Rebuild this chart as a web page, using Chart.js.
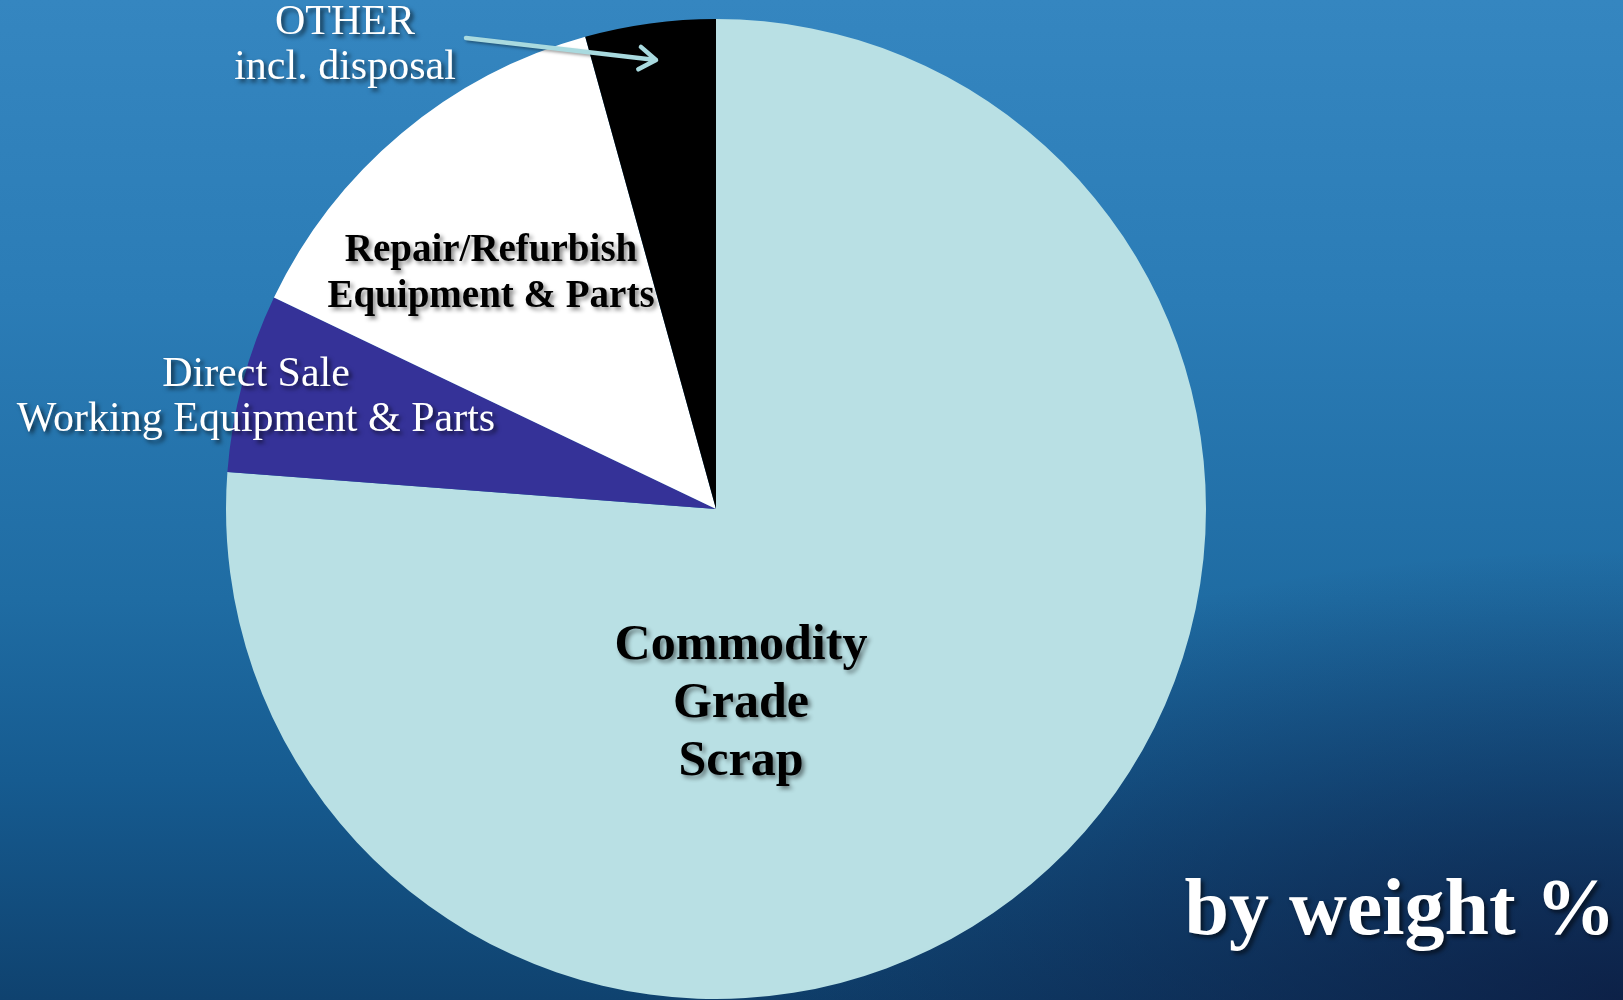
<!DOCTYPE html>
<html>
<head>
<meta charset="utf-8">
<script src="https://cdn.jsdelivr.net/npm/chart.js@4.4.0/dist/chart.umd.min.js"></script>
<style>
    html, body { margin: 0; padding: 0; overflow: hidden; }
    #wrap {
        position: relative;
        width: 1623px;
        height: 1000px;
        background:
            radial-gradient(ellipse 60% 45% at 100% 100%, rgba(12, 22, 58, 0.75), rgba(12, 22, 58, 0) 100%),
            linear-gradient(180deg, #3586c0 0%, #2b7cb6 30%, #1f6ca3 60%, #165b90 78%, #0f426f 100%);
    }
</style>
</head>
<body>
<div id="wrap"><canvas id="pieChart"></canvas></div>
<script>
// data (percent by weight)
const categories = ['Commodity Grade Scrap', 'Direct Sale Working Equipment & Parts', 'Repair/Refurbish Equipment & Parts', 'OTHER incl. disposal'];
const shares = [76.2, 5.9, 13.6, 4.3];
const sliceColors = ['#b9e0e4', '#353298', '#ffffff', '#000000'];

const serifFont = '"Liberation Serif", "DejaVu Serif", serif';

// text blocks drawn over the chart
function drawLines(ctx, lines, x, y, lineH, font, color, shadow) {
    ctx.save();
    ctx.font = font;
    ctx.fillStyle = color;
    ctx.textAlign = 'center';
    ctx.textBaseline = 'middle';
    ctx.shadowColor = shadow;
    ctx.shadowOffsetX = 3;
    ctx.shadowOffsetY = 3;
    ctx.shadowBlur = 4;
    lines.forEach((t, i) => ctx.fillText(t, x, y + i * lineH));
    ctx.restore();
}

const labelPlugin = {
    id: 'labelPlugin',
    afterDraw(chart) {
        const ctx = chart.ctx;

        drawLines(ctx, ['Commodity', 'Grade', 'Scrap'], 741, 646, 58,
            'bold 50px ' + serifFont, '#000000', 'rgba(0,0,0,0.45)');
        drawLines(ctx, ['Repair/Refurbish', 'Equipment & Parts'], 491, 251, 46,
            'bold 39px ' + serifFont, '#000000', 'rgba(0,0,0,0.45)');
        drawLines(ctx, ['Direct Sale', 'Working Equipment & Parts'], 256, 375, 45,
            '42px ' + serifFont, '#ffffff', 'rgba(0,0,0,0.6)');
        drawLines(ctx, ['OTHER', 'incl. disposal'], 345, 23, 45,
            '42px ' + serifFont, '#ffffff', 'rgba(0,0,0,0.6)');
        drawLines(ctx, ['by weight %'], 1400, 913, 0,
            'bold 80px ' + serifFont, '#ffffff', 'rgba(0,0,0,0.6)');

        // arrow from the OTHER label into the black slice
        ctx.save();
        ctx.strokeStyle = '#a9dadf';
        ctx.lineWidth = 4.5;
        ctx.lineCap = 'round';
        ctx.lineJoin = 'round';
        ctx.shadowColor = 'rgba(0,0,0,0.35)';
        ctx.shadowOffsetX = 2;
        ctx.shadowOffsetY = 2;
        ctx.shadowBlur = 3;
        const x0 = 466, y0 = 38, x1 = 656, y1 = 60;
        const ang = Math.atan2(y1 - y0, x1 - x0);
        ctx.beginPath();
        ctx.moveTo(x0, y0);
        ctx.lineTo(x1, y1);
        ctx.moveTo(x1 - 20 * Math.cos(ang - 0.6), y1 - 20 * Math.sin(ang - 0.6));
        ctx.lineTo(x1, y1);
        ctx.lineTo(x1 - 20 * Math.cos(ang + 0.6), y1 - 20 * Math.sin(ang + 0.6));
        ctx.stroke();
        ctx.restore();
    }
};

document.addEventListener('DOMContentLoaded', () => {
    const ctx = document.getElementById('pieChart').getContext('2d');
    new Chart(ctx, {
        type: 'pie',
        data: {
            labels: categories,
            datasets: [{
                data: shares,
                backgroundColor: sliceColors,
                borderWidth: 0,
                hoverOffset: 0
            }]
        },
        options: {
            responsive: true,
            maintainAspectRatio: false,
            animation: false,
            layout: {
                padding: { left: 226, right: 417, top: 19, bottom: 1 }
            },
            plugins: {
                legend: { display: false },
                tooltip: { enabled: false }
            }
        },
        plugins: [labelPlugin]
    });
});
</script>
</body>
</html>
